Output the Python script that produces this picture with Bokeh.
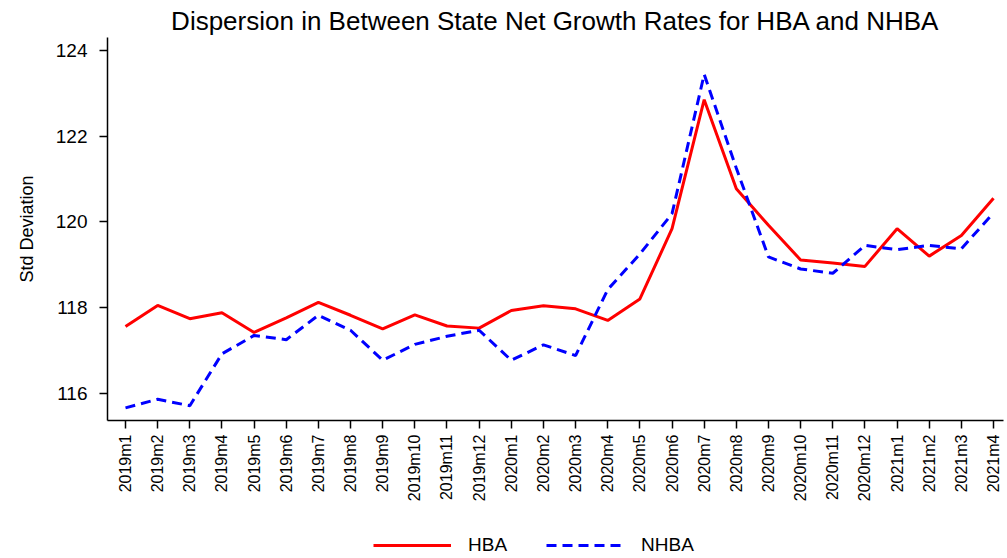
from bokeh.plotting import figure
from bokeh.layouts import column
from bokeh.models import FixedTicker, Legend, LegendItem, Range1d
from bokeh.embed import file_html
from bokeh.resources import INLINE
from math import pi

months = ["2019m1", "2019m2", "2019m3", "2019m4", "2019m5", "2019m6", "2019m7",
          "2019m8", "2019m9", "2019m10", "2019m11", "2019m12",
          "2020m1", "2020m2", "2020m3", "2020m4", "2020m5", "2020m6", "2020m7",
          "2020m8", "2020m9", "2020m10", "2020m11", "2020m12",
          "2021m1", "2021m2", "2021m3", "2021m4"]
hba = [117.56, 118.05, 117.74, 117.88, 117.42, 117.76, 118.12, 117.82, 117.50,
       117.83, 117.57, 117.52, 117.93, 118.04, 117.97, 117.70, 118.20, 119.84,
       122.85, 120.77, 119.92, 119.11, 119.04, 118.96, 119.84, 119.20, 119.68,
       120.55]
nhba = [115.66, 115.86, 115.71, 116.92, 117.35, 117.25, 117.82, 117.47, 116.77,
        117.14, 117.33, 117.47, 116.77, 117.13, 116.88, 118.42, 119.25, 120.19,
        123.44, 121.25, 119.18, 118.90, 118.80, 119.45, 119.35, 119.45, 119.37,
        120.21]
y_ticks = [116, 118, 120, 122, 124]
series_names = ["HBA", "NHBA"]

x = list(range(len(months)))
FONT = "Liberation Sans"
RED = "#FF0000"
BLUE = "#0000FF"
DASH = "10 6"

p = figure(width=1005, height=510, output_backend="svg", toolbar_location=None,
           x_range=Range1d(-0.56, 27.31), y_range=Range1d(115.365, 124.30),
           title="Dispersion in Between State Net Growth Rates for HBA and NHBA",
           min_border_left=107, min_border_right=2, min_border_top=37,
           min_border_bottom=90)

p.title.text_font = FONT
p.title.text_font_size = "26px"
p.title.text_font_style = "normal"
p.title.align = "center"
p.title.text_color = "black"
p.title.standoff = 3

p.outline_line_color = None
p.background_fill_color = "white"
p.border_fill_color = "white"
p.xgrid.visible = False
p.ygrid.visible = False

p.line(x, hba, line_color=RED, line_width=3)
p.line(x, nhba, line_color=BLUE, line_width=3, line_dash=DASH)

p.xaxis.ticker = FixedTicker(ticks=x)
p.xaxis.major_label_overrides = {i: m for i, m in enumerate(months)}
p.xaxis.major_label_orientation = pi / 2
p.xaxis.major_label_text_font = FONT
p.xaxis.major_label_text_font_size = "16px"
p.xaxis.major_label_standoff = 6
p.xaxis.major_tick_out = 8
p.xaxis.major_tick_in = 0
p.xaxis.minor_tick_out = 0
p.xaxis.minor_tick_in = 0
p.xaxis.axis_line_width = 1.5
p.xaxis.major_tick_line_width = 1.5

p.yaxis.ticker = FixedTicker(ticks=y_ticks)
p.yaxis.major_label_text_font = FONT
p.yaxis.major_label_text_font_size = "19px"
p.yaxis.major_label_standoff = 12
p.yaxis.major_tick_out = 8
p.yaxis.major_tick_in = 0
p.yaxis.minor_tick_out = 0
p.yaxis.minor_tick_in = 0
p.yaxis.axis_label = "Std Deviation"
p.yaxis.axis_label_text_font = FONT
p.yaxis.axis_label_text_font_size = "18px"
p.yaxis.axis_label_text_font_style = "normal"
p.yaxis.axis_label_standoff = 16
p.yaxis.axis_line_width = 1.5
p.yaxis.major_tick_line_width = 1.5

for ax in (p.xaxis[0], p.yaxis[0]):
    ax.axis_line_color = "black"
    ax.major_tick_line_color = "black"
    ax.major_label_text_color = "black"
    ax.axis_label_text_color = "black"

# legend strip below the chart (its own series lie outside its visible range)
lf = figure(width=1005, height=46, output_backend="svg", toolbar_location=None,
            x_range=Range1d(0, 1), y_range=Range1d(0, 1),
            min_border_left=0, min_border_right=0, min_border_top=0,
            min_border_bottom=0)
lf.axis.visible = False
lf.grid.visible = False
lf.outline_line_color = None
lf.background_fill_color = "white"
lf.border_fill_color = "white"
d1 = lf.line(x, hba, line_color=RED, line_width=3)
d2 = lf.line(x, nhba, line_color=BLUE, line_width=3, line_dash=DASH)

legend = Legend(items=[LegendItem(label=series_names[0], renderers=[d1]),
                       LegendItem(label=series_names[1], renderers=[d2])],
                orientation="horizontal", location=(266, 0),
                label_text_font=FONT, label_text_font_size="19px",
                label_text_color="black",
                glyph_width=78, glyph_height=12, spacing=39, label_standoff=17,
                border_line_color=None, background_fill_alpha=0,
                padding=4, margin=0)
lf.add_layout(legend, "center")

layout = column(p, lf, spacing=0)
open("out.html", "w").write(file_html(layout, INLINE))
